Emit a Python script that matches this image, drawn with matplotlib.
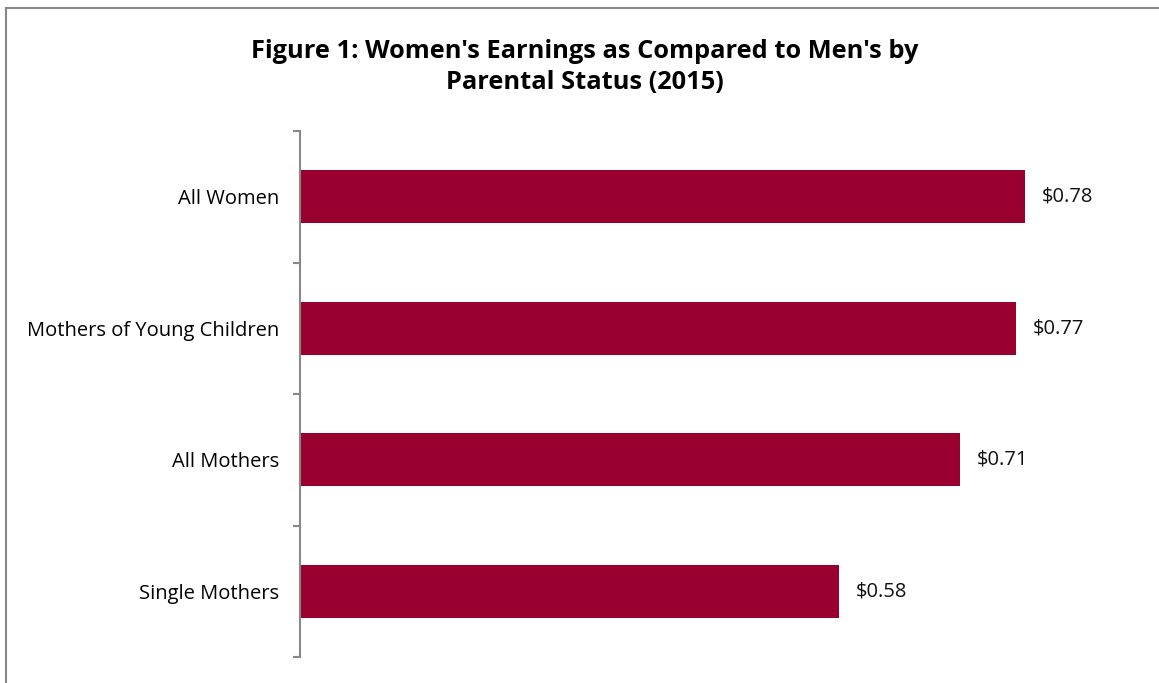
import matplotlib.pyplot as plt
from matplotlib.lines import Line2D

# women's earnings per dollar of men's, by parental status
categories = ["All Women", "Mothers of Young Children", "All Mothers", "Single Mothers"]
earnings = [0.78, 0.77, 0.71, 0.58]
value_labels = ["$0.78", "$0.77", "$0.71", "$0.58"]

bar_color = "#990030"
W, H = 1159, 683

plt.rcParams["font.family"] = ["Open Sans", "DejaVu Sans"]

fig = plt.figure(figsize=(W / 100, H / 100), dpi=100)

# border: only top and left edges are visible in the original
fig.add_artist(Line2D([5.5 / W, 5.5 / W], [0, 1 - 7.5 / H], transform=fig.transFigure,
                      color="#888888", linewidth=1.5))
fig.add_artist(Line2D([5.5 / W, 1], [1 - 7.5 / H, 1 - 7.5 / H], transform=fig.transFigure,
                      color="#888888", linewidth=1.5))

ax = fig.add_axes([300 / W, 1 - 657 / H, 850 / W, (657 - 131) / H])

y = list(range(len(categories)))
ax.barh(y, earnings, height=0.4, color=bar_color)
for yi, v, lab in zip(y, earnings, value_labels):
    ax.annotate(lab, (v, yi), xytext=(12, 0), textcoords="offset points",
                ha="left", va="center", fontsize=14.5, color="#111111")

ax.set_xlim(0, 850 / 929.5)
ax.set_ylim(len(categories) - 0.5, -0.5)
ax.set_yticks(y)
ax.set_yticklabels(categories, fontsize=14.5)
ax.set_yticks([i - 0.5 for i in range(len(categories) + 1)], minor=True)
ax.tick_params(axis="y", which="major", length=0, pad=15)
ax.tick_params(axis="y", which="minor", length=5, width=1.5, color="#888888")
ax.set_xticks([])
for s in ["top", "right", "bottom"]:
    ax.spines[s].set_visible(False)
ax.spines["left"].set_color("#888888")
ax.spines["left"].set_linewidth(1.5)

fig.text(585 / W, 1 - 67 / H, "Figure 1: Women's Earnings as Compared to Men's by\nParental Status (2015)",
         ha="center", va="center", fontsize=18.3, fontweight="bold", linespacing=1.35)

fig.savefig("out.png", dpi=100)
